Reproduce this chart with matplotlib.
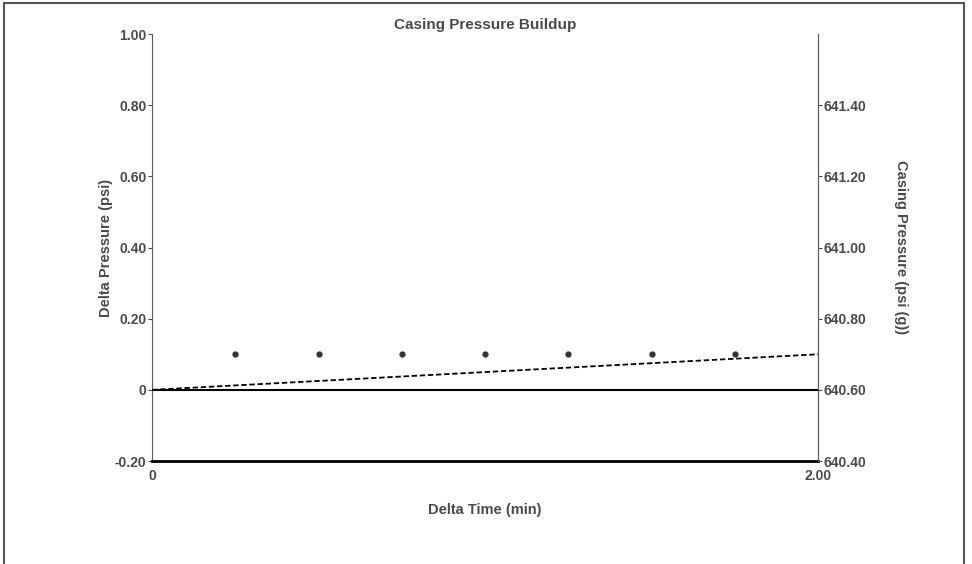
import matplotlib.pyplot as plt
from matplotlib.patches import Rectangle

plt.rcParams['font.family'] = ['Liberation Sans', 'DejaVu Sans']
plt.rcParams['font.weight'] = 'bold'

# Data
delta_time = [0.25, 0.50, 0.75, 1.00, 1.25, 1.50, 1.75]
delta_pressure = [0.10, 0.10, 0.10, 0.10, 0.10, 0.10, 0.10]

trend_time = [0.0, 2.0]
trend_pressure = [0.0, 0.10]

casing_time = [0.0, 2.0]
casing_pressure = [640.60, 640.60]

left_ticks = [-0.20, 0, 0.20, 0.40, 0.60, 0.80, 1.00]
left_labels = ['-0.20', '0', '0.20', '0.40', '0.60', '0.80', '1.00']
right_ticks = [640.40, 640.60, 640.80, 641.00, 641.20, 641.40]
right_labels = ['640.40', '640.60', '640.80', '641.00', '641.20', '641.40']
x_ticks = [0, 2.0]
x_labels = ['0', '2.00']

text_color = '#4a4a4a'
axis_color = '#5a5a5a'

fig = plt.figure(figsize=(9.72, 5.64), dpi=100)
ax = fig.add_axes([0.1564, 0.1826, 0.6852, 0.757])

# Delta pressure points and trend
ax.plot(delta_time, delta_pressure, linestyle='none', marker='o', markersize=3.5,
        color='#333333')
ax.plot(trend_time, trend_pressure, linestyle=(0, (3, 1.5)), color='black', linewidth=1.3)

ax.set_xlim(0, 2.0)
ax.set_ylim(-0.2, 1.0)
ax.set_xticks(x_ticks)
ax.set_xticklabels(x_labels)
ax.set_yticks(left_ticks)
ax.set_yticklabels(left_labels)
ax.tick_params(colors=text_color, labelsize=10, length=3, pad=1)
ax.tick_params(axis='x', length=0, pad=6)

ax.spines['top'].set_visible(False)
ax.spines['left'].set_color(axis_color)
ax.spines['right'].set_color(axis_color)
ax.spines['bottom'].set_color('black')
ax.spines['bottom'].set_linewidth(2)

ax.set_xlabel('Delta Time (min)', color=text_color, fontsize=10.5,
              fontweight='bold', labelpad=14)
ax.set_ylabel('Delta Pressure (psi)', color=text_color, fontsize=10.5,
              fontweight='bold', labelpad=1)
ax.set_title('Casing Pressure Buildup', color=text_color, fontsize=11,
             fontweight='bold', pad=4)

# Casing pressure on the right axis
ax2 = ax.twinx()
ax2.plot(casing_time, casing_pressure, color='black', linewidth=1.5)
ax2.set_ylim(640.4, 641.6)
ax2.set_yticks(right_ticks)
ax2.set_yticklabels(right_labels)
ax2.tick_params(colors=text_color, labelsize=10, length=3, pad=1)
ax2.spines['top'].set_visible(False)
ax2.spines['left'].set_visible(False)
ax2.spines['bottom'].set_visible(False)
ax2.spines['right'].set_color(axis_color)
ax2.set_ylabel('Casing Pressure (psi (g))', color=text_color, fontsize=10.5,
               fontweight='bold', rotation=270, labelpad=30)

# Outer frame of the scanned page
fig.patches.append(Rectangle((0.004, -0.01), 0.988, 1.005, transform=fig.transFigure,
                             fill=False, edgecolor='#555555', linewidth=1.5))

plt.savefig('out.png', dpi=100)
